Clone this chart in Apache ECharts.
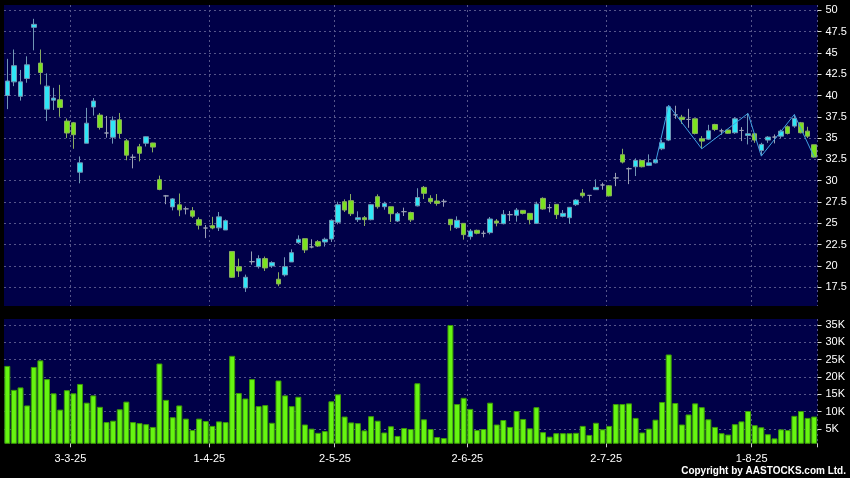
<!DOCTYPE html>
<html><head><meta charset="utf-8">
<script src="https://cdn.jsdelivr.net/npm/echarts@6/dist/echarts.min.js"></script>
<style>html,body{margin:0;padding:0;background:#000;}#c{width:850px;height:478px;}</style>
</head><body><div id="c"></div>
<script>
const categories = [
'17-2-25','18-2-25','19-2-25','20-2-25','21-2-25','24-2-25','25-2-25','26-2-25','27-2-25','28-2-25',
'3-3-25','4-3-25','5-3-25','6-3-25','7-3-25','10-3-25','11-3-25','12-3-25','13-3-25','14-3-25','17-3-25','18-3-25','19-3-25','20-3-25','21-3-25','24-3-25','25-3-25','26-3-25','27-3-25','28-3-25','31-3-25',
'1-4-25','2-4-25','3-4-25','7-4-25','8-4-25','9-4-25','10-4-25','11-4-25','14-4-25','15-4-25','16-4-25','17-4-25','22-4-25','23-4-25','24-4-25','25-4-25','28-4-25','29-4-25','30-4-25',
'2-5-25','6-5-25','7-5-25','8-5-25','9-5-25','12-5-25','13-5-25','14-5-25','15-5-25','16-5-25','19-5-25','20-5-25','21-5-25','22-5-25','23-5-25','26-5-25','27-5-25','28-5-25','29-5-25','30-5-25',
'2-6-25','3-6-25','4-6-25','5-6-25','6-6-25','9-6-25','10-6-25','11-6-25','12-6-25','13-6-25','16-6-25','17-6-25','18-6-25','19-6-25','20-6-25','23-6-25','24-6-25','25-6-25','26-6-25','27-6-25','30-6-25',
'2-7-25','3-7-25','4-7-25','7-7-25','8-7-25','9-7-25','10-7-25','11-7-25','14-7-25','15-7-25','16-7-25','17-7-25','18-7-25','21-7-25','22-7-25','23-7-25','24-7-25','25-7-25','28-7-25','29-7-25','30-7-25','31-7-25',
'1-8-25','4-8-25','5-8-25','6-8-25','7-8-25','8-8-25','11-8-25','12-8-25','13-8-25','14-8-25'];

const tickLabels = ['3-3-25','1-4-25','2-5-25','2-6-25','2-7-25','1-8-25'];

const opens = [40.0,41.6,39.9,42.0,48.0,43.8,38.4,39.45,39.5,37.0,
36.8,31.0,34.4,38.65,37.7,35.6,35.1,37.15,34.68,32.75,
33.98,34.4,34.43,30.12,28.22,26.93,27.17,26.7,26.48,25.43,
24.45,24.73,24.47,24.22,21.7,19.92,17.42,20.5,19.92,20.86,
20.0,18.44,18.95,20.47,22.73,23.2,22.23,22.85,22.81,23.16,
25.12,27.54,27.66,25.43,25.66,25.43,28.13,26.95,26.95,25.27,
26.37,26.27,27.05,29.22,27.93,27.62,27.58,25.47,24.49,25.0,
23.44,24.18,23.83,23.91,25.27,24.96,26.02,25.94,26.52,26.17,
25.0,27.93,26.84,27.23,25.82,25.66,27.19,28.55,28.28,28.95,
29.5,29.4,30.33,33.05,31.41,31.64,32.38,31.8,32.1,33.75,
34.77,37.73,37.46,37.19,37.27,34.92,34.88,36.6,35.85,35.95,
35.63,35.9,35.31,35.51,33.55,34.77,35.12,35.23,36.33,36.41,
36.8,35.82,34.22];
const closes = [41.7,43.5,41.6,43.6,48.35,42.7,41.1,39.7,38.6,35.6,
35.4,32.1,36.75,39.35,36.25,35.6,37.1,35.55,33.0,32.75,
33.22,35.16,33.95,28.98,28.22,27.87,26.58,26.7,25.84,24.78,
24.45,24.45,25.76,25.31,18.67,19.41,18.67,20.5,20.86,19.77,
20.39,17.89,19.92,21.56,23.13,21.88,22.23,22.34,23.13,25.35,
27.19,26.56,26.13,25.66,25.43,27.19,26.95,27.34,26.13,26.13,
26.37,25.41,28.03,28.52,27.54,27.34,27.58,24.84,25.35,23.67,
24.1,23.83,23.83,25.51,25.04,26.05,26.02,26.56,26.17,25.43,
27.27,26.68,26.84,26.02,26.17,26.88,27.73,28.24,28.28,29.22,
29.5,28.22,30.33,32.19,31.41,32.38,31.64,32.1,32.46,34.45,
38.67,37.73,37.19,37.19,35.55,34.65,35.86,36.02,35.85,35.57,
37.27,35.9,35.51,34.77,34.26,35.12,35.12,35.82,35.55,37.3,
35.63,35.23,32.77];
const lows = [38.4,41.1,39.4,41.5,45.3,41.3,37.0,38.3,37.5,35.0,
33.75,29.7,34.4,37.65,36.0,35.05,34.35,35.0,32.4,31.45,
32.27,34.02,33.33,28.88,27.25,26.52,25.84,26.05,25.63,24.28,
23.26,24.3,24.1,24.22,18.6,18.71,16.95,20.15,19.69,19.41,
19.77,17.62,18.75,20.47,22.58,21.52,22.07,22.23,22.27,22.81,
24.88,26.33,25.86,25.16,24.69,25.35,26.72,26.6,25.16,25.16,
25.86,25.16,26.99,27.85,27.27,27.07,26.95,24.14,24.34,23.09,
23.09,23.71,23.36,23.71,24.65,24.88,25.27,25.2,26.05,24.88,
24.92,26.6,26.29,25.51,25.7,24.92,27.03,28.01,27.54,28.95,
28.95,28.15,29.36,32.03,29.6,30.55,31.56,31.72,32.03,33.59,
34.65,37.27,36.68,36.21,35.43,33.75,34.77,35.82,35.4,35.5,
35.5,34.65,34.26,34.45,32.89,34.45,34.38,35.0,35.43,36.21,
35.55,35.0,32.7];
const highs = [44.3,45.4,43.0,44.6,49.0,45.4,42.6,40.9,41.25,37.3,
36.9,32.85,38.55,39.7,37.95,37.6,37.55,37.95,34.9,33.1,
34.32,35.2,34.45,30.6,28.33,27.97,28.5,26.97,26.91,25.7,
24.8,25.76,26.33,25.45,21.75,20.86,18.98,21.7,21.25,21.1,
20.55,19.26,21.02,21.95,23.59,23.2,23.13,23.03,23.32,25.47,
27.54,27.81,28.44,26.41,25.86,27.27,28.4,27.54,26.95,26.33,
26.84,26.37,29.12,29.38,28.3,28.44,27.85,25.47,25.82,25.04,
24.34,24.26,24.14,25.74,25.5,26.56,26.45,26.8,26.56,26.17,
27.54,28.05,27.27,27.23,26.56,26.88,27.85,29.02,28.28,30.16,
29.77,29.48,30.92,33.75,31.56,32.62,32.38,33.09,32.5,34.77,
38.85,38.8,37.73,38.44,37.27,35.23,36.56,36.68,36.1,36.0,
37.46,36.29,37.9,35.6,34.45,35.23,35.43,36.0,36.48,37.77,
36.9,36.33,34.22];

const volumeK = [23.2,16.3,17.0,11.8,22.9,24.8,19.4,15.3,10.6,16.2,
15.3,18.0,12.6,14.7,11.4,7.0,7.4,10.7,12.9,7.0,
6.7,6.4,5.6,23.9,13.4,8.4,11.8,8.0,4.7,8.0,
7.3,5.9,7.2,7.0,26.1,15.4,13.8,19.4,11.6,11.9,
6.8,19.0,14.7,11.6,14.3,6.3,5.1,3.9,4.4,13.0,
15.0,8.6,6.9,6.7,4.6,8.7,7.4,4.0,5.8,3.0,
5.3,5.0,18.2,7.8,5.0,2.7,2.4,35.0,12.2,14.0,
10.8,4.7,5.0,12.6,6.3,7.6,5.6,10.2,7.9,5.2,
11.3,4.1,2.8,3.8,3.8,3.8,3.9,5.9,3.3,6.8,
4.9,5.9,12.2,12.2,12.4,8.2,4.0,5.1,7.7,12.8,
26.5,12.5,6.3,9.2,12.4,11.3,7.8,5.6,3.8,3.4,
6.4,7.2,10.2,6.1,5.5,3.5,2.3,4.9,4.7,8.8,
10.2,8.2,8.6];

const zigzag = [[98,32.1],[100,38.85],[105,33.75],[112,37.9],[114,32.89],[119,37.77],[122,32.77]];

const candleData = opens.map((o, i) => [o, closes[i], lows[i], highs[i]]);
const isTick = (idx, val) => tickLabels.indexOf(categories[idx]) >= 0;

const FONT = '"Liberation Sans", Arial, sans-serif';
const gridLine = { show: true, lineStyle: { color: '#55558a', type: [2, 3], width: 1 } };

const chart = echarts.init(document.getElementById('c'), null, { renderer: 'canvas' });
chart.setOption({
  animation: false,
  backgroundColor: '#000000',
  textStyle: { fontFamily: FONT },
  grid: [
    { left: 4, top: 5, width: 813.5, height: 301, show: true, backgroundColor: '#000048', borderWidth: 0 },
    { left: 4, top: 319, width: 813.5, height: 124.3, show: true, backgroundColor: '#000048', borderWidth: 0 }
  ],
  xAxis: [
    { type: 'category', gridIndex: 0, data: categories, boundaryGap: true,
      axisLine: { show: false }, axisTick: { show: false }, axisLabel: { show: false },
      splitLine: Object.assign({ interval: isTick }, gridLine) },
    { type: 'category', gridIndex: 1, data: categories, boundaryGap: true,
      axisLine: { show: false },
      axisTick: { show: true, interval: isTick, length: 4, lineStyle: { color: '#cccccc' } },
      axisLabel: { show: true, interval: isTick, color: '#ffffff', fontSize: 11, fontFamily: FONT, margin: 10, padding: [0, 6, 0, 0] },
      splitLine: Object.assign({ interval: isTick }, gridLine) }
  ],
  yAxis: [
    { type: 'value', gridIndex: 0, position: 'right', min: 15.3, max: 50.62, minInterval: 2.5, maxInterval: 2.5,
      axisLine: { show: false },
      axisTick: { show: true, length: 4, lineStyle: { color: '#dddddd' } },
      axisLabel: { color: '#ffffff', fontSize: 11, fontFamily: FONT, margin: 8, showMinLabel: false, showMaxLabel: false },
      splitLine: Object.assign({ showMinLine: false, showMaxLine: false }, gridLine) },
    { type: 'value', gridIndex: 1, position: 'right', min: 0.88, max: 36.73, minInterval: 5, maxInterval: 5,
      axisLine: { show: false },
      axisTick: { show: true, length: 4, lineStyle: { color: '#dddddd' } },
      axisLabel: { color: '#ffffff', fontSize: 11, fontFamily: FONT, margin: 8, showMinLabel: false, showMaxLabel: false,
        formatter: v => v + 'K' },
      splitLine: Object.assign({ showMinLine: false, showMaxLine: false }, gridLine) }
  ],
  series: [
    { type: 'candlestick', xAxisIndex: 0, yAxisIndex: 0, data: candleData, barWidth: 5,
      itemStyle: { color: '#2fe6f6', color0: '#7be31f', borderColor: '#7096b4', borderColor0: '#8aad62',
        borderColorDoji: '#9aa0b4', borderWidth: 1 } },
    { type: 'line', xAxisIndex: 0, yAxisIndex: 0, data: zigzag, symbol: 'none',
      lineStyle: { color: '#3f9fe0', width: 1 }, z: 5 },
    { type: 'bar', xAxisIndex: 1, yAxisIndex: 1, data: volumeK, barCategoryGap: '10%',
      itemStyle: { color: '#66f511', borderColor: '#3c9a08', borderWidth: 1 } }
  ],
  graphic: [
    { type: 'text', right: 4, top: 466,
      style: { text: 'Copyright by AASTOCKS.com Ltd.', fill: '#ffffff', font: 'bold 10px ' + FONT } }
  ]
});
</script></body></html>
